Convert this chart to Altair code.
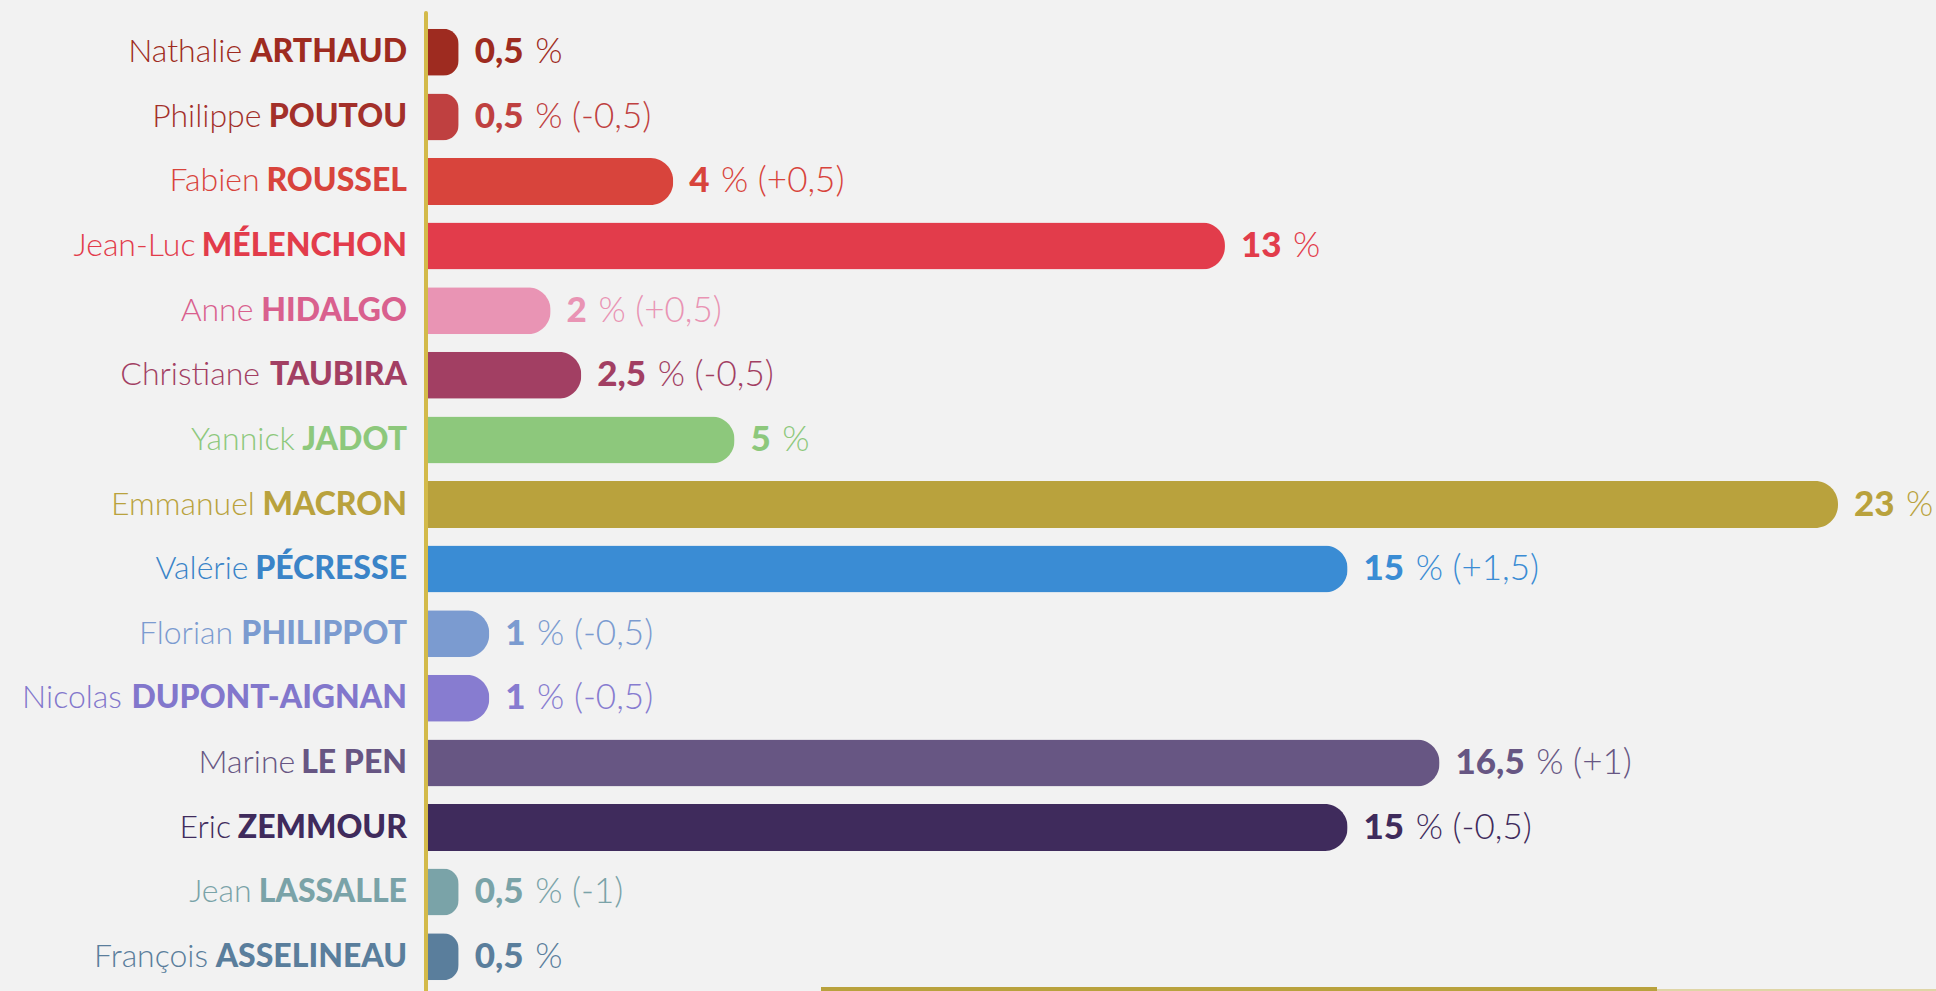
import glob, os
import altair as alt
import pandas as pd

# ---------------- data ----------------
first_names = ["Nathalie", "Philippe", "Fabien", "Jean-Luc", "Anne", "Christiane", "Yannick",
               "Emmanuel", "Valérie", "Florian", "Nicolas", "Marine", "Eric", "Jean", "François"]
last_names = ["ARTHAUD", "POUTOU", "ROUSSEL", "MÉLENCHON", "HIDALGO", "TAUBIRA", "JADOT",
              "MACRON", "PÉCRESSE", "PHILIPPOT", "DUPONT-AIGNAN", "LE PEN", "ZEMMOUR",
              "LASSALLE", "ASSELINEAU"]
values = [0.5, 0.5, 4, 13, 2, 2.5, 5, 23, 15, 1, 1, 16.5, 15, 0.5, 0.5]
changes = ["", "-0,5", "+0,5", "", "+0,5", "-0,5", "", "", "+1,5", "-0,5", "-0,5", "+1",
           "-0,5", "-1", ""]
bar_colors = ["#9E2B20", "#BF4040", "#D8443C", "#E23C4B", "#E994B4", "#A23F63", "#8DC87C",
              "#B9A23D", "#3A8CD4", "#7B9BD0", "#877CD0", "#675683", "#3F2B5C", "#7AA3A8",
              "#5A7E9C"]
name_colors = ["#9E2B20", "#A3302A", "#D8443C", "#E23C4B", "#D9608E", "#A23F63", "#8DC87C",
               "#B9A23D", "#3A84C8", "#7B9BD0", "#8277CC", "#675683", "#3F2B5C", "#7AA3A8",
               "#5A7E9C"]

# ---------------- layout constants ----------------
FONT = "Lato"
FS_NAME = 32
FS_VAL = 35
BOLD = 900
LIGHT = 300
W, H = 1410, 969
XMAX = 23
PPU = W / XMAX
NAME_GAP = 21
VAL_GAP = 16
RIGHT_PAD = 1936 - 428 - W

# ---------------- text measuring ----------------
FALLBACK_BOLD = dict(zip("ABCDEFGHIJKLMNOPQRSTUVWXYZ",
                         [.72, .69, .67, .77, .58, .56, .74, .78, .31, .43, .71, .52, .93, .78,
                          .81, .65, .81, .67, .57, .62, .76, .72, 1.06, .70, .67, .62]))
FALLBACK_BOLD.update({"É": .58, "-": .37, " ": .19, ",": .23, ".": .23})
FALLBACK_BOLD.update({d: .58 for d in "0123456789"})
FALLBACK_REG = {" ": .19}


def find_font(names):
    for fname in names:
        for root in ["/usr/share/fonts", "/usr/local/share/fonts", os.path.expanduser("~/.fonts")]:
            hits = glob.glob(os.path.join(root, "**", fname), recursive=True)
            if hits:
                return hits[0]
    return None


def measurer(fnames, fallback):
    path = find_font(fnames)
    if path:
        try:
            from fontTools.ttLib import TTFont
            f = TTFont(path)
            cmap = f.getBestCmap()
            hmtx = f["hmtx"]
            upm = f["head"].unitsPerEm
            return lambda s, size: sum(hmtx[cmap.get(ord(c), ".notdef")][0] for c in s) * size / upm
        except Exception:
            pass
        try:
            from PIL import ImageFont
            font = ImageFont.truetype(path, 40)
            return lambda s, size: font.getlength(s) * size / 40
        except Exception:
            pass
    return lambda s, size: sum(fallback.get(c, 0.6) for c in s) * size


bold_w = measurer(["Lato-Black.ttf", "Lato-Heavy.ttf", "Lato-Bold.ttf"], FALLBACK_BOLD)
reg_w = measurer(["Lato-Light.ttf", "Lato-Regular.ttf"], FALLBACK_REG)

# ---------------- table ----------------
num_txt = [f"{v:g}".replace(".", ",") for v in values]
rest_txt = ["%" + (f" ({c})" if c else "") for c in changes]
df = pd.DataFrame({
    "first": first_names,
    "last": last_names,
    "value": values,
    "num": num_txt,
    "rest": rest_txt,
    "bcolor": bar_colors,
    "ncolor": name_colors,
})
df["first_x"] = [-(NAME_GAP + bold_w(l, FS_NAME) + reg_w(" ", FS_NAME) - 3) / PPU
                 for l in last_names]
df["rest_x"] = [v + (bold_w(n, FS_VAL) + reg_w(" ", FS_VAL) + 2) / PPU
                for v, n in zip(values, num_txt)]

xscale = alt.Scale(domain=[0, XMAX], nice=False, zero=True)
yscale = alt.Scale(paddingInner=0.2725, paddingOuter=0.136)
Y = alt.Y("last:N", sort=last_names, scale=yscale, axis=None)

base = alt.Chart(df)

bars = base.mark_bar(cornerRadiusTopRight=23, cornerRadiusBottomRight=23).encode(
    x=alt.X("value:Q", scale=xscale, axis=None),
    y=Y,
    color=alt.Color("bcolor:N", scale=None, legend=None),
)

last_txt = base.mark_text(align="right", baseline="middle", dx=-NAME_GAP, font=FONT,
                          fontSize=FS_NAME, fontWeight=BOLD).encode(
    x=alt.value(0), y=Y, text="last:N", color=alt.Color("ncolor:N", scale=None))

first_txt = base.mark_text(align="right", baseline="middle", font=FONT, fontSize=FS_NAME,
                           fontWeight=LIGHT).encode(
    x=alt.X("first_x:Q", scale=xscale, axis=None), y=Y, text="first:N",
    color=alt.Color("ncolor:N", scale=None))

num_mark = base.mark_text(align="left", baseline="middle", dx=VAL_GAP, font=FONT,
                          fontSize=FS_VAL, fontWeight=BOLD).encode(
    x=alt.X("value:Q", scale=xscale, axis=None), y=Y, text="num:N",
    color=alt.Color("bcolor:N", scale=None))

rest_mark = base.mark_text(align="left", baseline="middle", dx=VAL_GAP, font=FONT,
                           fontSize=FS_VAL, fontWeight=LIGHT).encode(
    x=alt.X("rest_x:Q", scale=xscale, axis=None), y=Y, text="rest:N",
    color=alt.Color("bcolor:N", scale=None))

one = alt.Chart(pd.DataFrame({"k": [0]}))
axis_line = one.mark_rule(color="#D3BA4A", strokeWidth=4, strokeCap="round").encode(
    x=alt.value(-2), y=alt.value(-7), y2=alt.value(H + 10))
bottom_line = one.mark_rule(color="#B9A23D", strokeWidth=4).encode(
    x=alt.value(393), x2=alt.value(1229), y=alt.value(H + 0))
bottom_thin = one.mark_rule(color="#D8CB8C", strokeWidth=1.5).encode(
    x=alt.value(1229), x2=alt.value(W + RIGHT_PAD), y=alt.value(H + 1))

chart = alt.layer(bars, axis_line, bottom_line, bottom_thin, last_txt, first_txt,
                  num_mark, rest_mark).properties(
    width=W, height=H,
    padding={"left": 428, "top": 20, "right": RIGHT_PAD, "bottom": 2},
    autosize=alt.AutoSizeParams(type="none"),
    background="#F2F2F2",
).configure_view(stroke=None)

chart.save("out.html", embed_options={"renderer": "svg", "actions": False})
